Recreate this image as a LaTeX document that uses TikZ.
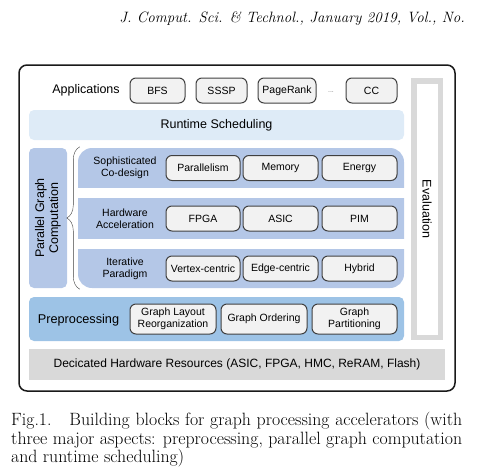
\documentclass[tikz,border=0pt]{standalone}
\usepackage{fontspec}
\newfontfamily\arialfont{Liberation Sans}
\usetikzlibrary{decorations.pathreplacing}
\definecolor{runblue}{HTML}{DEEBF7}
\definecolor{coreblue}{HTML}{B4C7E7}
\definecolor{preblue}{HTML}{9DC3E6}
\definecolor{hwgray}{HTML}{D9D9D9}
\definecolor{boxgray}{HTML}{F2F2F2}
\definecolor{edgegray}{HTML}{404040}

\begin{document}
\begin{tikzpicture}[x=1pt,y=-1pt,
		item/.style={draw=edgegray,fill=boxgray,line width=1pt,rounded corners=6pt,minimum height=25pt,inner sep=1pt,align=center,font=\arialfont\fontsize{10.5}{12}\selectfont},
		band/.style={rounded corners=5pt,inner sep=0pt,align=center,font=\arialfont\fontsize{12.5}{14}\selectfont},
		rowtext/.style={align=center,inner sep=0pt,font=\arialfont\fontsize{10.5}{12}\selectfont}]
		\useasboundingbox (0,0) rectangle (500,474);
		\node[anchor=base east,inner sep=0pt,font=\itshape\fontsize{15}{18}\selectfont] (head) at (465,22) {J. Comput. Sci. \& Technol., January 2019, Vol., No.};
		\node[draw=black!90,line width=1.5pt,rounded corners=8pt,minimum width=436pt,minimum height=326pt] (frame) at (237,228) {};
		%applications on top
		\node[band] (apps) at (86,90) {Applications};
		\node[item,minimum width=55pt] (bfs) at (157.5,90.5) {BFS};
		\node[item,minimum width=51pt] (sssp) at (221.5,90.5) {SSSP};
		\node[item,minimum width=58pt] (pagerank) at (287,90.5) {PageRank};
		\node[text=gray,inner sep=0pt,font=\arialfont\fontsize{7}{7}\selectfont] (dots) at (331,92) {...};
		\node[item,minimum width=51pt] (cc) at (371.5,90.5) {CC};
		\node[band,fill=runblue,minimum width=375pt,minimum height=30pt] (runtime) at (216.5,125) {Runtime Scheduling};
		\node[draw=hwgray,line width=5.5pt,fill=white,rotate=-90,minimum width=256.5pt,minimum height=26.5pt,font=\arialfont\fontsize{12.5}{14}\selectfont] (eval) at (427,209) {Evaluation};
		%parallel graph computation
		\node[band,fill=coreblue,rotate=90,minimum width=140pt,minimum height=38pt] (pgc) at (48,218) {Parallel Graph\\Computation};
		\node[fill=coreblue,rounded corners=14pt,minimum width=326pt,minimum height=140pt] (core) at (241,218) {};
		\fill[white] (77,188) rectangle (405,198);
		\fill[white] (77,238.5) rectangle (405,249);
		\draw[edgegray,decorate,decoration={brace,amplitude=13pt}] ([xshift=2pt,yshift=-1pt]core.south west) -- ([xshift=2pt,yshift=1pt]core.north west);
		\foreach \y/\row/\txt/\a/\b/\c in {168/cod/{Sophisticated\\Co-design}/Parallelism/Memory/Energy,
			218.5/acc/{Hardware\\Acceleration}/FPGA/ASIC/PIM,
			268.5/itp/{Iterative\\Paradigm}/Vertex-centric/Edge-centric/Hybrid}{
			\node[rowtext] (\row) at (125,\y) {\txt};
			\node[item,minimum width=74pt] (\row-a) at (203,\y) {\a};
			\node[item,minimum width=75pt] (\row-b) at (280.5,\y) {\b};
			\node[item,minimum width=75pt] (\row-c) at (359.5,\y) {\c};
		}
		%preprocessing and hardware
		\node[band,fill=preblue,minimum width=375pt,minimum height=44pt] (prep) at (216.5,319) {};
		\node[band,font=\arialfont\fontsize{12.7}{14}\selectfont] (preptext) at (78.5,320) {Preprocessing};
		\node[item,minimum width=86pt,minimum height=30pt] (layout) at (173,319) {Graph Layout\\Reorganization};
		\node[item,minimum width=86pt,minimum height=30pt] (order) at (264,319) {Graph Ordering};
		\node[item,minimum width=85pt,minimum height=30pt] (part) at (354.5,319) {Graph\\Partitioning};
		\node[fill=hwgray,minimum width=416pt,minimum height=31pt,font=\arialfont\fontsize{12}{14}\selectfont] (hw) at (237,364.5) {Decicated Hardware Resources (ASIC, FPGA, HMC, ReRAM, Flash)};
		\node[anchor=north west,text width=451pt,align=justify,inner sep=0pt,font=\fontsize{17.8}{18.5}\selectfont] (caption) at (11,412) {Fig.1.\quad Building blocks for graph processing accelerators (with\linebreak three major aspects: preprocessing, parallel graph computation\linebreak and runtime scheduling)};
\end{tikzpicture}
\end{document}
